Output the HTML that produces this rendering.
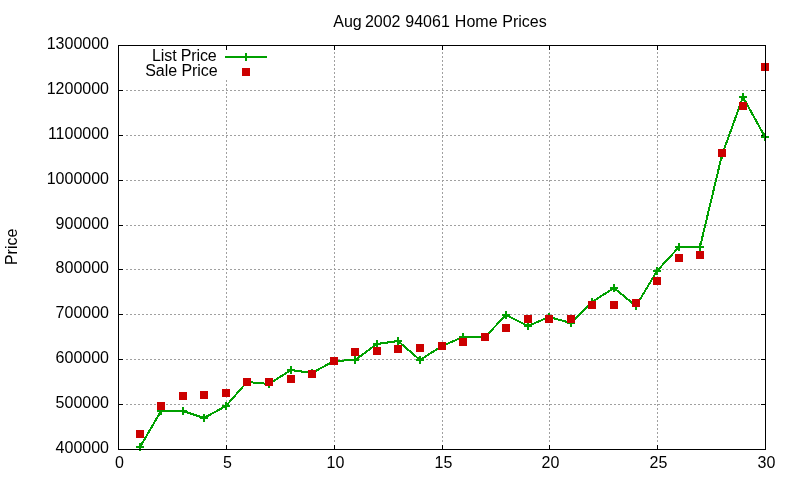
<!DOCTYPE html>
<html><head><meta charset="utf-8"><title>Aug 2002 94061 Home Prices</title>
<style>html,body{margin:0;padding:0;background:#fff;}body{width:800px;height:480px;overflow:hidden;}svg{display:block;}</style>
</head><body>
<svg width="800" height="480" viewBox="0 0 800 480" shape-rendering="crispEdges">
<rect x="0" y="0" width="800" height="480" fill="#fff"/>
<path d="M226.5 444V80 M334.5 444V48 M442.5 444V48 M549.5 444V48 M657.5 444V48 M124 90.5H760 M124 135.5H760 M124 180.5H760 M124 225.5H760 M124 269.5H760 M124 314.5H760 M124 359.5H760 M124 404.5H760" stroke="#a0a0a0" stroke-width="1" stroke-dasharray="2 2" stroke-dashoffset="2" fill="none"/>
<path d="M226.5 449V445M226.5 46V50M334.5 449V445M334.5 46V50M442.5 449V445M442.5 46V50M549.5 449V445M549.5 46V50M657.5 449V445M657.5 46V50M119 90.5H123M765 90.5H761M119 135.5H123M765 135.5H761M119 180.5H123M765 180.5H761M119 225.5H123M765 225.5H761M119 269.5H123M765 269.5H761M119 314.5H123M765 314.5H761M119 359.5H123M765 359.5H761M119 404.5H123M765 404.5H761" stroke="#000" stroke-width="1" fill="none"/>
<polyline points="140,447 161,411 183,411 204,418 226,406 247,382 269,384 291,370 312,373 334,361 355,360 377,344 398,341 420,360 442,346 463,337 485,337 506,315 528,326 549,317 571,323 592,302 614,288 636,306 657,271 679,247 700,247 722,155 743,97 765,137" fill="none" stroke="#00a000" stroke-width="2" stroke-linejoin="miter"/>
<path d="M136 447H144M140 443V451M157 411H165M161 407V415M179 411H187M183 407V415M200 418H208M204 414V422M222 406H230M226 402V410M243 382H251M247 378V386M265 384H273M269 380V388M287 370H295M291 366V374M308 373H316M312 369V377M330 361H338M334 357V365M351 360H359M355 356V364M373 344H381M377 340V348M394 341H402M398 337V345M416 360H424M420 356V364M438 346H446M442 342V350M459 337H467M463 333V341M481 337H489M485 333V341M502 315H510M506 311V319M524 326H532M528 322V330M545 317H553M549 313V321M567 323H575M571 319V327M588 302H596M592 298V306M610 288H618M614 284V292M632 306H640M636 302V310M653 271H661M657 267V275M675 247H683M679 243V251M696 247H704M700 243V251M718 155H726M722 151V159M739 97H747M743 93V101M761 137H769M765 133V141M242 57H250M246 53V61" stroke="#00a000" stroke-width="2" fill="none"/>
<path d="M225 57H267" stroke="#00a000" stroke-width="2"/>
<rect x="136" y="430" width="8" height="8" fill="#cc0000"/>
<rect x="157" y="402" width="8" height="8" fill="#cc0000"/>
<rect x="179" y="392" width="8" height="8" fill="#cc0000"/>
<rect x="200" y="391" width="8" height="8" fill="#cc0000"/>
<rect x="222" y="389" width="8" height="8" fill="#cc0000"/>
<rect x="243" y="378" width="8" height="8" fill="#cc0000"/>
<rect x="265" y="378" width="8" height="8" fill="#cc0000"/>
<rect x="287" y="375" width="8" height="8" fill="#cc0000"/>
<rect x="308" y="370" width="8" height="8" fill="#cc0000"/>
<rect x="330" y="357" width="8" height="8" fill="#cc0000"/>
<rect x="351" y="348" width="8" height="8" fill="#cc0000"/>
<rect x="373" y="347" width="8" height="8" fill="#cc0000"/>
<rect x="394" y="345" width="8" height="8" fill="#cc0000"/>
<rect x="416" y="344" width="8" height="8" fill="#cc0000"/>
<rect x="438" y="342" width="8" height="8" fill="#cc0000"/>
<rect x="459" y="338" width="8" height="8" fill="#cc0000"/>
<rect x="481" y="333" width="8" height="8" fill="#cc0000"/>
<rect x="502" y="324" width="8" height="8" fill="#cc0000"/>
<rect x="524" y="315" width="8" height="8" fill="#cc0000"/>
<rect x="545" y="315" width="8" height="8" fill="#cc0000"/>
<rect x="567" y="315" width="8" height="8" fill="#cc0000"/>
<rect x="588" y="301" width="8" height="8" fill="#cc0000"/>
<rect x="610" y="301" width="8" height="8" fill="#cc0000"/>
<rect x="632" y="299" width="8" height="8" fill="#cc0000"/>
<rect x="653" y="277" width="8" height="8" fill="#cc0000"/>
<rect x="675" y="254" width="8" height="8" fill="#cc0000"/>
<rect x="696" y="251" width="8" height="8" fill="#cc0000"/>
<rect x="718" y="149" width="8" height="8" fill="#cc0000"/>
<rect x="739" y="102" width="8" height="8" fill="#cc0000"/>
<rect x="761" y="63" width="8" height="8" fill="#cc0000"/>
<rect x="242" y="68" width="8" height="8" fill="#cc0000"/>
<path d="M118.5 45.5H765.5V449.5H118.5Z" stroke="#000" stroke-width="1" fill="none"/>
<g style="font-family:'Liberation Sans',Arial,sans-serif;font-size:16px" fill="#000">
<text x="440" y="27" text-anchor="middle">Aug <tspan dx="-1.3">2002</tspan><tspan dx="0.4"> 94061</tspan><tspan dx="0.6"> Home</tspan><tspan dx="0.3"> Prices</tspan></text>
<text x="109" y="48.6" text-anchor="end">1300000</text>
<text x="109" y="93.6" text-anchor="end">1200000</text>
<text x="109" y="138.6" text-anchor="end">1100000</text>
<text x="109" y="183.6" text-anchor="end">1000000</text>
<text x="109" y="228.6" text-anchor="end">900000</text>
<text x="109" y="272.6" text-anchor="end">800000</text>
<text x="109" y="317.6" text-anchor="end">700000</text>
<text x="109" y="362.6" text-anchor="end">600000</text>
<text x="109" y="407.6" text-anchor="end">500000</text>
<text x="109" y="452.6" text-anchor="end">400000</text>
<text x="119.5" y="468" text-anchor="middle">0</text>
<text x="227.5" y="468" text-anchor="middle">5</text>
<text x="335.5" y="468" text-anchor="middle">10</text>
<text x="443.5" y="468" text-anchor="middle">15</text>
<text x="550.5" y="468" text-anchor="middle">20</text>
<text x="658.5" y="468" text-anchor="middle">25</text>
<text x="766.5" y="468" text-anchor="middle">30</text>
<text transform="translate(16.7 246.9) rotate(-90)" text-anchor="middle">Price</text>
<text x="216.6" y="61" text-anchor="end" letter-spacing="-0.13">List Price</text>
<text x="217.6" y="75.5" text-anchor="end" letter-spacing="-0.05">Sale Price</text>
</g>
</svg>
</body></html>
